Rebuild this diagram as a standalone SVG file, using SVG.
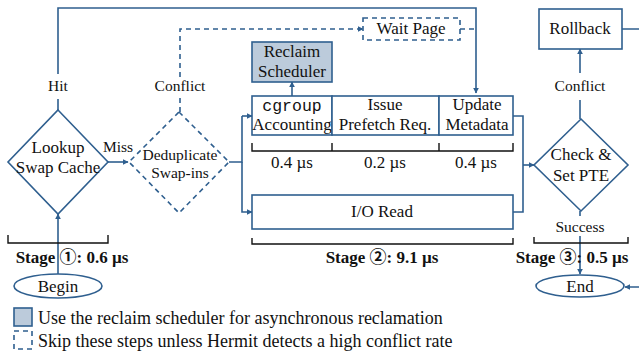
<svg xmlns="http://www.w3.org/2000/svg" width="639" height="358" viewBox="0 0 639 358">
<style>
.s{fill:none;stroke:#2f5f8f;stroke-width:1.6}
.b{fill:#fff;stroke:#2f5f8f;stroke-width:1.6}
.d{stroke-dasharray:5,4}
.k{fill:none;stroke:#111;stroke-width:1.4}
text{font-family:"Liberation Serif","Times New Roman",serif;fill:#111;text-anchor:middle}
.n{font-size:17px}
.l{font-size:15.5px}
.m{font-family:"Liberation Mono","DejaVu Sans Mono",monospace;font-size:16.5px}
.st{font-size:17px;font-weight:bold}
.c{font-family:"Noto Sans CJK JP","DejaVu Sans",sans-serif;font-weight:bold}
.lg{font-size:18px;text-anchor:start}
</style>
<defs>
<marker id="a" viewBox="0 0 10 10" refX="9" refY="5" markerWidth="6" markerHeight="6" markerUnits="userSpaceOnUse" orient="auto">
<path d="M0,0 L10,5 L0,10 z" fill="#2f5f8f"/>
</marker>
</defs>
<g id="connectors">
<path class="s" d="M58,110 V99 M58,74 V8 H476 V93" marker-end="url(#a)"/>
<path class="s d" d="M180,112 V98 M180,77 V29 H363" marker-end="url(#a)"/>
<path class="s d" d="M460,29 H476"/>
<path class="s" d="M108,162 H128" marker-end="url(#a)"/>
<path class="s" d="M229,162 H242 V116"/>
<path class="s" d="M242,116 H252" marker-end="url(#a)"/>
<path class="s" d="M242,162 V212 H252" marker-end="url(#a)"/>
<path class="s" d="M292,96 V82" marker-end="url(#a)"/>
<path class="s" d="M513,116 H523 V212 H513"/>
<path class="s" d="M523,165 H534" marker-end="url(#a)"/>
<path class="s" d="M580,119 V100 M580,73 V49" marker-end="url(#a)"/>
<path class="s" d="M622,29 H642 V287 H625" marker-end="url(#a)"/>
<path class="s" d="M580,211 V216 M580,236 V274" marker-end="url(#a)"/>
<path class="s" d="M58,274 V214" marker-end="url(#a)"/>
</g>
<g id="brackets">
<path class="k" d="M8,235 V243 H108 V235"/>
<path class="k" d="M252,143 V151 H513 V143 M332,143 V151 M439,143 V151"/>
<path class="k" d="M252,238 V244 H513 V238"/>
<path class="k" d="M534,237 V243 H628 V237"/>
</g>
<g id="labels">
<text class="l" x="58" y="91">Hit</text>
<text class="l" x="180" y="91">Conflict</text>
<text class="l" x="118" y="152">Miss</text>
<text class="l" x="580" y="91">Conflict</text>
<text class="l" x="580" y="232">Success</text>
<text class="n" x="292" y="168">0.4 µs</text>
<text class="n" x="385" y="168">0.2 µs</text>
<text class="n" x="476" y="168">0.4 µs</text>
<text class="st" x="72" y="263">Stage <tspan class="c">①</tspan>: 0.6 µs</text>
<text class="st" x="382" y="263">Stage <tspan class="c">②</tspan>: 9.1 µs</text>
<text class="st" x="572" y="263">Stage <tspan class="c">③</tspan>: 0.5 µs</text>
</g>
<g id="lookup">
<path class="b" d="M58,110 L108,162 L58,214 L8,162 Z"/>
<text class="n" x="58" y="153">Lookup</text>
<text class="n" x="58" y="173">Swap Cache</text>
</g>
<g id="dedup">
<path class="b d" d="M179,112 L229,162 L179,213 L129,162 Z"/>
<text class="l" x="180" y="160">Deduplicate</text>
<text class="l" x="180" y="178">Swap-ins</text>
</g>
<g id="reclaim">
<rect x="252" y="42" width="80" height="40" fill="#bccbdb" stroke="#2f5f8f" stroke-width="1.6"/>
<text class="n" x="292" y="57">Reclaim</text>
<text class="n" x="292" y="77">Scheduler</text>
</g>
<g id="waitpage">
<rect class="b d" x="363" y="18" width="97" height="22"/>
<text class="n" x="411" y="34">Wait Page</text>
</g>
<g id="cgroup">
<rect class="b" x="252" y="96" width="80" height="39"/>
<text class="m" x="292" y="111">cgroup</text>
<text class="n" x="292" y="130">Accounting</text>
</g>
<g id="prefetch">
<rect class="b" x="332" y="96" width="107" height="39"/>
<text class="n" x="385" y="110">Issue</text>
<text class="n" x="385" y="130">Prefetch Req.</text>
</g>
<g id="metadata">
<rect class="b" x="439" y="96" width="74" height="39"/>
<text class="n" x="477" y="110">Update</text>
<text class="n" x="477" y="130">Metadata</text>
</g>
<g id="ioread">
<rect class="b" x="252" y="195" width="261" height="34"/>
<text class="n" x="382" y="217">I/O Read</text>
</g>
<g id="check">
<path class="b" d="M581,119 L628,165 L581,211 L534,165 Z"/>
<text class="n" x="581" y="160">Check &amp;</text>
<text class="n" x="581" y="181">Set PTE</text>
</g>
<g id="rollback">
<rect class="b" x="539" y="9" width="83" height="40"/>
<text class="n" x="580" y="34">Rollback</text>
</g>
<g id="begin">
<ellipse class="b" cx="58" cy="286" rx="44" ry="12"/>
<text class="n" x="58" y="292">Begin</text>
</g>
<g id="end">
<ellipse class="b" cx="580" cy="286" rx="44" ry="11"/>
<text class="n" x="580" y="292">End</text>
</g>
<g id="legend">
<rect x="14" y="308" width="18" height="18" fill="#bccbdb" stroke="#2f5f8f" stroke-width="1.6"/>
<text class="lg" x="38" y="324">Use the reclaim scheduler for asynchronous reclamation</text>
<rect class="b d" x="14" y="331" width="18" height="18" stroke-dasharray="4,3"/>
<text class="lg" x="38" y="347">Skip these steps unless Hermit detects a high conflict rate</text>
</g>
</svg>
